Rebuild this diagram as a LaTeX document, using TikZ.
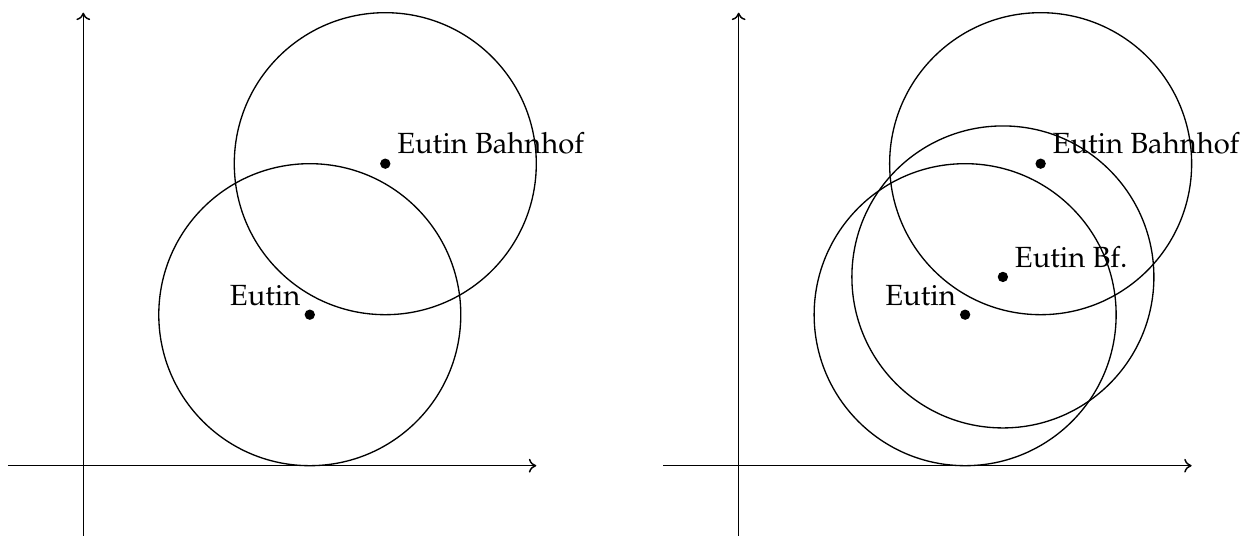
\documentclass[tikz,border=0pt]{standalone}
\usepackage[T1]{fontenc}
\usepackage{mathpazo}
\usetikzlibrary{arrows.meta}
\tikzset{
  axis/.style={-{Computer Modern Rightarrow[length=2.8pt,width=5.2pt]}, line width=0.55pt},
  circ/.style={draw, line width=0.5pt},
  pt/.style={circle, fill=black, inner sep=0pt, minimum size=3.9pt},
  lbl/.style={font=\fontsize{11}{13}\selectfont, inner sep=0.333em}
}
\begin{document}
\begin{tikzpicture}
\useasboundingbox (-1.103,-0.931) rectangle (15.400,6.168);
% left plot
\begin{scope}
  \coordinate (lxs) at (-1,0); \coordinate (lxe) at (6,0);
  \coordinate (lys) at (0,-1); \coordinate (lye) at (0,6);
  \draw[axis] (lxs) -- (lxe);
  \draw[axis] (lys) -- (lye);
  \node[pt] (e1) at (3,2) {};
  \node[pt] (b1) at (4,4) {};
  \draw[circ] (e1.center) circle (2);
  \draw[circ] (b1.center) circle (2);
  \node[lbl, anchor=south east] (le1) at (e1.center) {Eutin};
  \node[lbl, anchor=south west] (lb1) at ([xshift=1pt]b1.center) {Eutin Bahnhof};
\end{scope}
% right plot
\begin{scope}[xshift=8.68cm]
  \coordinate (rxs) at (-1,0); \coordinate (rxe) at (6,0);
  \coordinate (rys) at (0,-1); \coordinate (rye) at (0,6);
  \draw[axis] (rxs) -- (rxe);
  \draw[axis] (rys) -- (rye);
  \node[pt] (e2) at (3,2) {};
  \node[pt] (b2) at (4,4) {};
  \node[pt] (f2) at (3.5,2.5) {};
  \draw[circ] (e2.center) circle (2);
  \draw[circ] (b2.center) circle (2);
  \draw[circ] (f2.center) circle (2);
  \node[lbl, anchor=south east] (le2) at (e2.center) {Eutin};
  \node[lbl, anchor=south west] (lb2) at ([xshift=1pt]b2.center) {Eutin Bahnhof};
  \node[lbl, anchor=south west] (lf2) at ([xshift=1pt]f2.center) {Eutin Bf.};
\end{scope}
\end{tikzpicture}
\end{document}
